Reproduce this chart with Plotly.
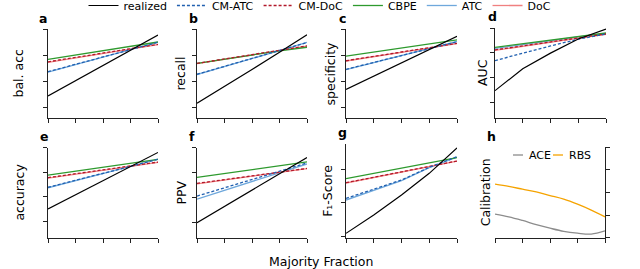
import plotly.graph_objects as go

# ---------------- data ----------------
majority = [0.5, 0.6, 0.7, 0.8, 0.9]
majority_fine = [0.5, 0.55, 0.6, 0.65, 0.7, 0.75, 0.8, 0.85, 0.9]

metrics = ["bal. acc", "recall", "specificity", "AUC", "accuracy", "PPV", "F₁-Score"]
panel_letters = ["a", "b", "c", "d", "e", "f", "g", "h"]

realized = {
    "bal. acc": [0.543, 0.602, 0.660, 0.718, 0.777],
    "recall": [0.515, 0.579, 0.644, 0.711, 0.778],
    "specificity": [0.568, 0.619, 0.670, 0.721, 0.772],
    "AUC": [0.548, 0.636, 0.699, 0.756, 0.796],
    "accuracy": [0.551, 0.608, 0.665, 0.722, 0.780],
    "PPV": [0.498, 0.564, 0.629, 0.694, 0.760],
    "F₁-Score": [0.416, 0.526, 0.646, 0.776, 0.929],
}
cm_atc = {
    "bal. acc": [0.636, 0.664, 0.692, 0.720, 0.749],
    "recall": [0.626, 0.656, 0.686, 0.717, 0.748],
    "specificity": [0.645, 0.672, 0.699, 0.724, 0.751],
    "AUC": [0.669, 0.699, 0.728, 0.755, 0.776],
    "accuracy": [0.639, 0.668, 0.696, 0.724, 0.752],
    "PPV": [0.605, 0.638, 0.672, 0.705, 0.738],
    "F₁-Score": [0.626, 0.682, 0.736, 0.812, 0.876],
}
cm_doc = {
    "bal. acc": [0.674, 0.691, 0.708, 0.724, 0.741],
    "recall": [0.668, 0.685, 0.702, 0.718, 0.735],
    "specificity": [0.678, 0.695, 0.712, 0.728, 0.745],
    "AUC": [0.712, 0.729, 0.745, 0.760, 0.776],
    "accuracy": [0.678, 0.694, 0.711, 0.725, 0.741],
    "PPV": [0.656, 0.671, 0.685, 0.701, 0.716],
    "F₁-Score": [0.720, 0.752, 0.784, 0.818, 0.850],
}
cbpe = {
    "bal. acc": [0.683, 0.700, 0.716, 0.734, 0.750],
    "recall": [0.668, 0.685, 0.700, 0.716, 0.730],
    "specificity": [0.696, 0.712, 0.727, 0.742, 0.758],
    "AUC": [0.722, 0.737, 0.751, 0.766, 0.780],
    "accuracy": [0.688, 0.704, 0.721, 0.736, 0.752],
    "PPV": [0.680, 0.696, 0.710, 0.726, 0.742],
    "F₁-Score": [0.744, 0.776, 0.806, 0.838, 0.870],
}
atc = {
    "bal. acc": [0.634, 0.663, 0.691, 0.720, 0.750],
    "recall": [0.625, 0.655, 0.686, 0.717, 0.749],
    "specificity": [0.644, 0.671, 0.698, 0.724, 0.752],
    "AUC": [0.718, 0.734, 0.749, 0.764, 0.777],
    "accuracy": [0.637, 0.667, 0.695, 0.724, 0.753],
    "PPV": [0.593, 0.629, 0.664, 0.700, 0.734],
    "F₁-Score": [0.616, 0.676, 0.732, 0.810, 0.874],
}
doc = {
    "bal. acc": [0.672, 0.689, 0.706, 0.723, 0.740],
    "recall": [0.667, 0.684, 0.701, 0.717, 0.734],
    "specificity": [0.677, 0.694, 0.711, 0.727, 0.744],
    "AUC": [0.710, 0.727, 0.744, 0.759, 0.775],
    "accuracy": [0.676, 0.693, 0.710, 0.724, 0.740],
    "PPV": [0.654, 0.670, 0.684, 0.700, 0.715],
    "F₁-Score": [0.718, 0.750, 0.782, 0.817, 0.849],
}
ace = [0.052, 0.046, 0.038, 0.029, 0.021, 0.014, 0.010, 0.008, 0.015]
rbs = [0.118, 0.113, 0.107, 0.101, 0.093, 0.085, 0.074, 0.061, 0.046]
calib_names = ["ACE", "RBS"]

# ---------------- layout/style ----------------
W, H = 640, 269
FONT = "DejaVu Sans"
# panel pixel boxes: (left, right, top, bottom)
boxes = [
    (48, 158, 29, 118), (197, 307, 29, 118), (346, 457, 29, 118), (495, 606, 28, 118),
    (48, 158, 147.5, 237.7), (197, 307, 147.5, 237.7), (346, 457, 144, 237.7), (495, 605, 147, 237.7),
]
yranges = [
    [0.458, 0.8], [0.458, 0.8], [0.458, 0.8], [0.438, 0.8],
    [0.435, 0.8], [0.438, 0.8], [0.39, 0.952], [0.0, 0.2],
]
yticks = [
    [0.5, 0.6, 0.7, 0.8]] * 6 + [[0.4, 0.6, 0.8], [0.0, 0.05, 0.1, 0.15, 0.2]]
ytitle_x = [18, 180, 330, 482, 20, 182, 328, 485]
letter_x = [43, 193, 342, 492, 44, 192, 342, 491]
ACE_COLOR, RBS_COLOR = "#8c8c8c", "#f5a300"
# in-panel key for panel h: (line x0, line x1, text x) in pixels, at key_y
calib_key = [(513, 523, 527), (553, 563, 567)]
key_y = 155

series_style = [
    # name, data, color, dash, width, rank
    ("ATC", atc, "#6fa8dc", "solid", 1.3, 5),
    ("DoC", doc, "#f08080", "solid", 1.3, 6),
    ("CBPE", cbpe, "#2e9a2e", "solid", 1.3, 4),
    ("CM-DoC", cm_doc, "#b2182b", "3px,2px", 1.3, 3),
    ("CM-ATC", cm_atc, "#2160b0", "3px,2px", 1.3, 2),
    ("realized", realized, "black", "solid", 1.2, 1),
]

fig = go.Figure()
layout = dict(
    width=W, height=H, autosize=False,
    margin=dict(l=0, r=0, t=0, b=0, autoexpand=False),
    paper_bgcolor="white", plot_bgcolor="white",
    font=dict(family=FONT, size=11, color="black"),
    showlegend=True,
    legend=dict(orientation="h", x=0.5, xanchor="center", y=1 + 9 / H, yanchor="top",
                font=dict(size=11), itemwidth=30, bgcolor="rgba(0,0,0,0)",
                tracegroupgap=0),
)
annotations = []
shapes = []

for i in range(8):
    l, r, t, b = boxes[i]
    ax = "" if i == 0 else str(i + 1)
    xa = dict(domain=[l / W, r / W], range=[0.5, 0.9], anchor="y" + ax,
              showgrid=False, zeroline=False, showline=True, linecolor="#222", linewidth=1,
              ticks="outside", ticklen=4, tickcolor="#222", tickwidth=1,
              tickvals=majority, showticklabels=False)
    ya = dict(domain=[1 - b / H, 1 - t / H], range=yranges[i], anchor="x" + ax,
              showgrid=False, zeroline=False, showline=True, linecolor="#222", linewidth=1,
              ticks="outside", ticklen=4, tickcolor="#222", tickwidth=1,
              tickvals=yticks[i], showticklabels=False)
    if i == 7:
        ya["side"] = "right"
    layout["xaxis" + ax] = xa
    layout["yaxis" + ax] = ya

    if i < 7:
        m = metrics[i]
        for name, data, color, dash, w, rank in series_style:
            fig.add_trace(go.Scatter(
                x=majority, y=data[m], mode="lines", name=name,
                line=dict(color=color, dash=dash, width=w),
                xaxis="x" + ax, yaxis="y" + ax, legendrank=rank,
                showlegend=(i == 0), legendgroup=name))
        title = m
    else:
        fig.add_trace(go.Scatter(x=majority_fine, y=ace, mode="lines", name=calib_names[0],
                                 line=dict(color=ACE_COLOR, width=1.3, shape="spline"),
                                 xaxis="x8", yaxis="y8", showlegend=False))
        fig.add_trace(go.Scatter(x=majority_fine, y=rbs, mode="lines", name=calib_names[1],
                                 line=dict(color=RBS_COLOR, width=1.3, shape="spline"),
                                 xaxis="x8", yaxis="y8", showlegend=False))
        for (x0, x1, tx), nm, col in zip(calib_key, calib_names, [ACE_COLOR, RBS_COLOR]):
            shapes.append(dict(type="line", xref="paper", yref="paper",
                               x0=x0 / W, x1=x1 / W, y0=1 - key_y / H, y1=1 - key_y / H,
                               line=dict(color=col, width=1.3)))
            annotations.append(dict(text=nm, x=tx / W, y=1 - key_y / H, xref="paper",
                                    yref="paper", showarrow=False, xanchor="left",
                                    yanchor="middle", font=dict(size=11)))
        title = "Calibration"

    annotations.append(dict(text=title, x=ytitle_x[i] / W, y=1 - (t + b) / 2 / H,
                            xref="paper", yref="paper", textangle=-90, showarrow=False,
                            xanchor="center", yanchor="middle", font=dict(size=12.5)))
    annotations.append(dict(text="<b>" + panel_letters[i] + "</b>", x=letter_x[i] / W,
                            y=1 - (t - 11) / H, xref="paper", yref="paper", showarrow=False,
                            xanchor="center", yanchor="middle", font=dict(size=12.5)))

annotations.append(dict(text="Majority Fraction", x=321 / W, y=1 - 261 / H, xref="paper",
                        yref="paper", showarrow=False, xanchor="center", yanchor="middle",
                        font=dict(size=12.5)))
layout["annotations"] = annotations
layout["shapes"] = shapes
fig.update_layout(**layout)

fig.write_html("out.html", config={"displayModeBar": False},
               post_script="document.body.style.margin='0';")
